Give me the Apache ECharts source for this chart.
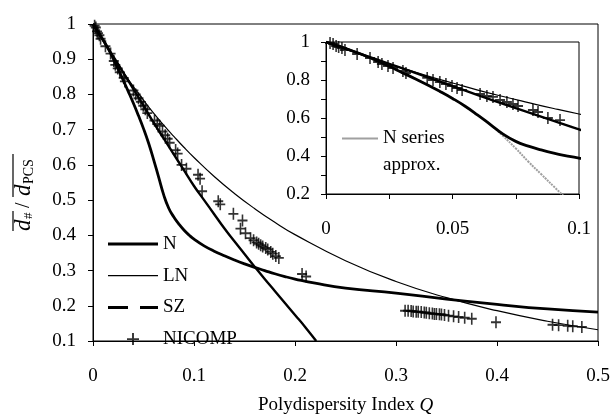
<!DOCTYPE html>
<html>
<head>
<meta charset="utf-8">
<title>Number-mean / PCS diameter ratio vs polydispersity</title>
<script src="https://cdn.jsdelivr.net/npm/echarts@6/dist/echarts.min.js"></script>
<style>
    html, body { margin: 0; padding: 0; background: #fff; }
    #chart { width: 613px; height: 420px; }
</style>
</head>
<body>
<div id="chart"></div>
<script>
    // model curves
    const nQ = [0, 0.005, 0.01, 0.015, 0.02, 0.025, 0.03, 0.035, 0.04, 0.045, 0.05, 0.055, 0.06, 0.065, 0.07,
        0.075, 0.08, 0.085, 0.09, 0.095, 0.1, 0.11, 0.12, 0.13, 0.14, 0.15, 0.16, 0.17, 0.18, 0.19, 0.2,
        0.22, 0.25, 0.3, 0.35, 0.4, 0.45, 0.5];
    const nRatio = [1, 0.978, 0.955, 0.93, 0.902, 0.872, 0.84, 0.808, 0.775, 0.74, 0.703, 0.662, 0.615, 0.565, 0.515,
        0.477, 0.452, 0.432, 0.415, 0.401, 0.389, 0.37, 0.355, 0.342, 0.33, 0.319, 0.309, 0.3, 0.291, 0.283, 0.276,
        0.264, 0.25, 0.236, 0.219, 0.204, 0.191, 0.182];

    const lnQ = [0, 0.01, 0.02, 0.03, 0.04, 0.05, 0.06, 0.07, 0.08, 0.09, 0.1, 0.12, 0.14, 0.16, 0.18, 0.2,
        0.25, 0.3, 0.35, 0.4, 0.45, 0.5];
    const lnRatio = [1, 0.952, 0.906, 0.863, 0.822, 0.784, 0.747, 0.713, 0.681, 0.65, 0.621, 0.567, 0.519, 0.476, 0.437, 0.402,
        0.328, 0.269, 0.223, 0.186, 0.156, 0.132];

    const szQ = [0, 0.01, 0.02, 0.03, 0.04, 0.05, 0.06, 0.07, 0.08, 0.09, 0.1, 0.11, 0.12, 0.13, 0.14, 0.15,
        0.16, 0.17, 0.18, 0.19, 0.2, 0.21, 0.221];
    const szRatio = [1, 0.954, 0.908, 0.862, 0.815, 0.768, 0.72, 0.675, 0.63, 0.585, 0.54, 0.5, 0.46, 0.42, 0.383, 0.347,
        0.311, 0.276, 0.242, 0.208, 0.174, 0.14, 0.1];

    // series expansion of N, inset only
    const approxQ = [0, 0.01, 0.02, 0.03, 0.04, 0.05, 0.06, 0.065, 0.07, 0.075, 0.08, 0.085, 0.09, 0.095];
    const approxRatio = [1, 0.955, 0.902, 0.84, 0.775, 0.703, 0.615, 0.565, 0.505, 0.44, 0.37, 0.305, 0.24, 0.175];

    // NICOMP measurements
    const nicompQ = [0.0016, 0.0028, 0.004, 0.005, 0.0063, 0.0075, 0.0123, 0.0174, 0.0206, 0.0221, 0.0245, 0.0265,
        0.0304, 0.0316, 0.04, 0.0423, 0.045, 0.0474, 0.0498, 0.0518, 0.0538, 0.0609, 0.0636, 0.066, 0.0688,
        0.0715, 0.0739, 0.0759, 0.0818, 0.0838, 0.0877, 0.0925,
        0.104, 0.106, 0.108, 0.124, 0.126, 0.139, 0.148, 0.146, 0.151, 0.156, 0.159, 0.162, 0.164, 0.166,
        0.168, 0.171, 0.173, 0.176, 0.178, 0.181, 0.184, 0.207, 0.211,
        0.309, 0.312, 0.315, 0.317, 0.32, 0.322, 0.325, 0.328, 0.33, 0.333, 0.336, 0.338, 0.34, 0.343, 0.345,
        0.348, 0.352, 0.357, 0.362, 0.368, 0.375, 0.399, 0.455, 0.461, 0.47, 0.475, 0.484];
    const nicompRatio = [0.995, 0.99, 0.979, 0.974, 0.968, 0.958, 0.937, 0.916, 0.895, 0.884, 0.874, 0.863,
        0.847, 0.837, 0.811, 0.8, 0.789, 0.779, 0.768, 0.758, 0.747, 0.726, 0.716, 0.711, 0.695,
        0.684, 0.674, 0.663, 0.642, 0.632, 0.6, 0.589,
        0.572, 0.561, 0.525, 0.497, 0.488, 0.461, 0.442, 0.419, 0.406, 0.392, 0.386, 0.38, 0.376, 0.372,
        0.368, 0.364, 0.36, 0.353, 0.348, 0.341, 0.336, 0.29, 0.283,
        0.186, 0.186, 0.185, 0.184, 0.183, 0.183, 0.182, 0.181, 0.18, 0.179, 0.178, 0.177, 0.177, 0.176, 0.175,
        0.174, 0.172, 0.17, 0.168, 0.166, 0.163, 0.153, 0.146, 0.145, 0.143, 0.142, 0.14];

    const FONT = '"Liberation Serif", "Times New Roman", serif';
    const plusPath = 'path://M0,4.2H10V5.8H0Z M4.2,0H5.8V10H4.2Z';

    // legend samples drawn as flat paths so no symbol shows up on them
    const thickIcon = 'path://M0,0H50V3H0Z';
    const thinIcon = 'path://M0,0H50V1.3H0Z';
    const dashIcon = 'path://M0,0H20V3H0Z M32,0H50V3H32Z';
    const greyIcon = 'path://M0,0H36V2.2H0Z';

    function zip(xs, ys) {
        return xs.map((x, i) => [x, ys[i]]);
    }

    const nicompPts = zip(nicompQ, nicompRatio);
    const insetPts = nicompPts.filter(p => p[0] <= 0.1);

    function valueAxis(gridIndex, min, max, interval, margin, extra) {
        return Object.assign({
            type: 'value',
            gridIndex: gridIndex,
            min: min,
            max: max,
            interval: interval,
            axisLine: { show: true, onZero: false, lineStyle: { color: '#000', width: 1 } },
            axisTick: { show: true, length: 5, lineStyle: { color: '#000' } },
            splitLine: { show: false },
            axisLabel: { color: '#000', fontFamily: FONT, fontSize: 19, margin: margin }
        }, extra || {});
    }

    const minor = { show: true, splitNumber: 2, length: 5, lineStyle: { color: '#000' } };

    const chart = echarts.init(document.getElementById('chart'));

    chart.setOption({
        animation: false,
        backgroundColor: '#fff',
        grid: [
            { left: 93, right: 15, top: 24, bottom: 72, show: true, borderColor: '#000', borderWidth: 1 },
            { left: 326, right: 34, top: 42, bottom: 226, show: true, borderColor: '#000', borderWidth: 1 }
        ],
        xAxis: [
            valueAxis(0, 0, 0.5, 0.1, 26, {
                name: 'Polydispersity Index {i|Q}',
                nameLocation: 'middle',
                nameGap: 55,
                nameTextStyle: {
                    color: '#000', fontFamily: FONT, fontSize: 19,
                    rich: { i: { fontStyle: 'italic', fontFamily: FONT, fontSize: 19, color: '#000' } }
                }
            }),
            valueAxis(1, 0, 0.1, 0.05, 26, { minorTick: minor })
        ],
        yAxis: [
            valueAxis(0, 0.1, 1, 0.1, 17),
            valueAxis(1, 0.2, 1, 0.2, 16, { minorTick: minor })
        ],
        legend: [
            {
                orient: 'vertical',
                left: 108,
                top: 234,
                padding: 0,
                itemWidth: 50,
                itemHeight: 12,
                itemGap: 11.7,
                selectedMode: false,
                textStyle: { color: '#000', fontFamily: FONT, fontSize: 19, lineHeight: 20 },
                data: [
                    { name: 'N', icon: thickIcon },
                    { name: 'LN', icon: thinIcon },
                    { name: 'SZ', icon: dashIcon },
                    { name: 'NICOMP', icon: plusPath }
                ]
            },
            {
                orient: 'vertical',
                left: 342,
                top: 98,
                padding: 0,
                itemWidth: 36,
                itemHeight: 12,
                selectedMode: false,
                // blank first line keeps "N series" level with the sample line
                formatter: () => ' \nN series\napprox.',
                textStyle: { color: '#000', fontFamily: FONT, fontSize: 19, lineHeight: 27 },
                data: [{ name: 'N series approx.', icon: greyIcon }]
            }
        ],
        series: [
            {
                name: 'N', type: 'line', xAxisIndex: 0, yAxisIndex: 0, data: zip(nQ, nRatio),
                smooth: true, symbol: 'none', lineStyle: { color: '#000', width: 2.8 }, itemStyle: { color: '#000' }
            },
            {
                name: 'LN', type: 'line', xAxisIndex: 0, yAxisIndex: 0, data: zip(lnQ, lnRatio),
                smooth: true, symbol: 'none', lineStyle: { color: '#000', width: 1.2 }, itemStyle: { color: '#000' }
            },
            {
                name: 'SZ', type: 'line', xAxisIndex: 0, yAxisIndex: 0, data: zip(szQ, szRatio),
                smooth: true, symbol: 'none', lineStyle: { color: '#000', width: 2.4 }, itemStyle: { color: '#000' }
            },
            {
                name: 'NICOMP', type: 'scatter', xAxisIndex: 0, yAxisIndex: 0, data: nicompPts,
                symbol: plusPath, symbolSize: [10, 12], itemStyle: { color: '#000' }
            },
            {
                name: 'N series approx.', type: 'line', xAxisIndex: 1, yAxisIndex: 1, data: zip(approxQ, approxRatio),
                smooth: true, symbol: 'none', lineStyle: { color: '#a0a0a0', width: 2, type: [2, 1] },
                itemStyle: { color: '#a0a0a0' }
            },
            {
                name: 'N inset', type: 'line', xAxisIndex: 1, yAxisIndex: 1, data: zip(nQ, nRatio),
                smooth: true, symbol: 'none', lineStyle: { color: '#000', width: 2.8 }
            },
            {
                name: 'LN inset', type: 'line', xAxisIndex: 1, yAxisIndex: 1, data: zip(lnQ, lnRatio),
                smooth: true, symbol: 'none', lineStyle: { color: '#000', width: 1.2 }
            },
            {
                name: 'SZ inset', type: 'line', xAxisIndex: 1, yAxisIndex: 1, data: zip(szQ, szRatio),
                smooth: true, symbol: 'none', lineStyle: { color: '#000', width: 2.4 }
            },
            {
                name: 'NICOMP inset', type: 'scatter', xAxisIndex: 1, yAxisIndex: 1, data: insetPts,
                symbol: plusPath, symbolSize: [10, 12], itemStyle: { color: '#000' }
            }
        ],
        graphic: [
            {
                // y axis title with overbars, rotated to read upwards
                type: 'group',
                x: 24,
                y: 184,
                rotation: Math.PI / 2,
                silent: true,
                children: [
                    { type: 'text', x: -47, y: 0, style: { text: 'd', font: 'italic 23px ' + FONT, fill: '#000', verticalAlign: 'middle' } },
                    { type: 'text', x: -35, y: 5, style: { text: '#', font: '13px ' + FONT, fill: '#000', verticalAlign: 'middle' } },
                    { type: 'text', x: -24, y: 0, style: { text: '/', font: '20px ' + FONT, fill: '#000', verticalAlign: 'middle' } },
                    { type: 'text', x: -12, y: 0, style: { text: 'd', font: 'italic 23px ' + FONT, fill: '#000', verticalAlign: 'middle' } },
                    { type: 'text', x: 0, y: 5, style: { text: 'PCS', font: '14px ' + FONT, fill: '#000', verticalAlign: 'middle' } },
                    { type: 'line', shape: { x1: -47, y1: -11, x2: -27, y2: -11 }, style: { stroke: '#000', lineWidth: 1.2 } },
                    { type: 'line', shape: { x1: -13, y1: -11, x2: 30, y2: -11 }, style: { stroke: '#000', lineWidth: 1.2 } }
                ]
            }
        ]
    });
</script>
</body>
</html>
